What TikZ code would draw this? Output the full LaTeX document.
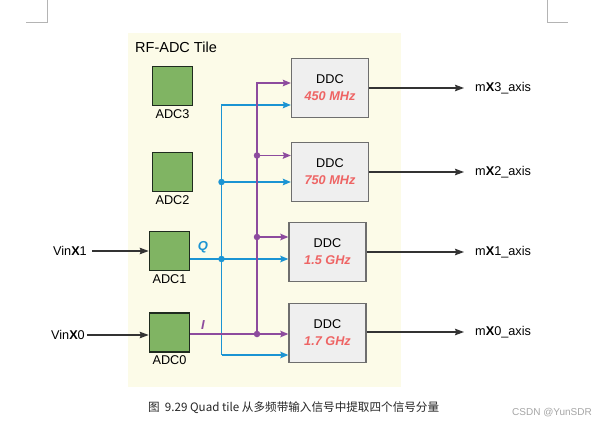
\documentclass[tikz,border=0pt]{standalone}
\usepackage{fontspec}
\setmainfont{Liberation Sans}
\newfontfamily\cjk{Noto Sans CJK SC}
\usetikzlibrary{arrows.meta,calc}
\definecolor{tilebg}{HTML}{FCFBE8}
\definecolor{adcgreen}{HTML}{80B463}
\definecolor{adcedge}{HTML}{1F2B1F}
\definecolor{ddcfill}{HTML}{EFEFEF}
\definecolor{ddcedge}{HTML}{6E6E6E}
\definecolor{wblue}{HTML}{1B94D3}
\definecolor{wpurple}{HTML}{8D4B9E}
\definecolor{freqred}{HTML}{EE6464}
\definecolor{darkarrow}{HTML}{333333}
\definecolor{markgrey}{HTML}{B4B4B4}
\begin{document}
\begin{tikzpicture}[x=1pt,y=-1pt,
  txt/.style={font=\fontsize{12.7}{15}\selectfont, inner sep=0pt},
  adcbox/.style={draw=adcedge, fill=adcgreen, line width=1.6pt, minimum width=40pt, minimum height=39pt, inner sep=0pt},
  adclabel/.style={txt, anchor=north},
  ddcbox/.style={draw=ddcedge, fill=ddcfill, line width=1.3pt, minimum width=77pt, minimum height=59pt, align=center, font=\fontsize{12.7}{18}\selectfont, inner sep=0pt},
  bw/.style={draw=wblue, line width=1.4pt},
  pw/.style={draw=wpurple, line width=1.4pt},
  arr/.style={-{Stealth[length=8pt,width=6.5pt,inset=1.2pt]}},
  outarr/.style={draw=darkarrow, line width=1.3pt, -{Stealth[length=9pt,width=6.5pt,inset=1.2pt]}},
  dotb/.style={circle, fill=wblue, inner sep=0pt, minimum size=6.5pt},
  dotp/.style={circle, fill=wpurple, inner sep=0pt, minimum size=6.5pt},
]
\useasboundingbox (0,0) rectangle (594,425);
\fill[white] (0,0) rectangle (594,425);
% corner marks
\draw[markgrey, line width=0.7pt] (47,0) -- (47,22) -- (26,22);
\draw[markgrey, line width=0.7pt] (547,0) -- (547,22) -- (568,22);
% tile
\fill[tilebg] (128,33) rectangle (401,387);
\node[txt, anchor=west, font=\fontsize{14.5}{17}\selectfont] (title) at (135,47) {RF-ADC Tile};
% ADCs
\node[adcbox] (adc3) at (172.5,86) {};
\node[adcbox] (adc2) at (172.5,172) {};
\node[adcbox] (adc1) at (169.5,251) {};
\node[adcbox] (adc0) at (169.5,332.5) {};
\node[adclabel] (l3) at ($(adc3.south)+(0,3)$) {ADC3};
\node[adclabel] (l2) at ($(adc2.south)+(0,3)$) {ADC2};
\node[adclabel] (l1) at ($(adc1.south)+(0,3)$) {ADC1};
\node[adclabel] (l0) at ($(adc0.south)+(0,3)$) {ADC0};
% DDCs
\node[ddcbox] (ddc3) at (330,88) {DDC\\[-1pt]{\bfseries\itshape\color{freqred}450 MHz}};
\node[ddcbox] (ddc2) at (330,172) {DDC\\[-1pt]{\bfseries\itshape\color{freqred}750 MHz}};
\node[ddcbox] (ddc1) at (327.5,252) {DDC\\[-1pt]{\bfseries\itshape\color{freqred}1.5 GHz}};
\node[ddcbox] (ddc0) at (327.5,333) {DDC\\[-1pt]{\bfseries\itshape\color{freqred}1.7 GHz}};
% inputs
\node[txt, anchor=east] (vin1) at (87,251) {Vin\textbf{X}1};
\node[txt, anchor=east] (vin0) at (85,335) {Vin\textbf{X}0};
\draw[outarr] ($(vin1.east)+(5,0)$) -- (adc1.west);
\draw[outarr] ($(vin0.east)+(2,0)$) -- (adc0.west |- vin0.east);
% junction coordinates
\coordinate (q) at (221.5,259);
\coordinate (i) at (257,334);
\coordinate (bt) at (221.5,105);
\coordinate (bb) at (221.5,355);
\coordinate (b2) at (221.5,182);
\coordinate (pt) at (257,83);
\coordinate (p2) at (257,155.5);
\coordinate (p1) at (257,237);
% blue Q network
\draw[bw] (adc1.east |- q) -- (q);
\draw[bw,arr] (q) -- (q -| ddc1.west);
\draw[bw,arr] (bb) |- (bt) -- (bt -| ddc3.west);
\draw[bw,arr] (bb) -- (bb -| ddc0.west);
\draw[bw,arr] (b2) -- (b2 -| ddc2.west);
% purple I network
\draw[pw] (adc0.east |- i) -- (i);
\draw[pw,arr] (i) -- (i -| ddc0.west);
\draw[pw,arr] (i) -- (pt) -- (pt -| ddc3.west);
\draw[pw,arr] (p2) -- (p2 -| ddc2.west);
\draw[pw,arr] (p1) -- (p1 -| ddc1.west);
% dots
\node[dotb] (dq) at (q) {};
\node[dotb] (db2) at (b2) {};
\node[dotp] (di) at (i) {};
\node[dotp] (dp2) at (p2) {};
\node[dotp] (dp1) at (p1) {};
% Q / I labels
\node[txt, text=wblue, font=\fontsize{13}{15}\bfseries\itshape] (qlab) at (203,247) {Q};
\node[txt, text=wpurple, font=\fontsize{13}{15}\bfseries\itshape] (ilab) at (203,325) {I};
% outputs
\node[txt, anchor=west] (o3) at (475,88) {m\textbf{X}3\_axis};
\node[txt, anchor=west] (o2) at (475,172) {m\textbf{X}2\_axis};
\node[txt, anchor=west] (o1) at (475,252) {m\textbf{X}1\_axis};
\node[txt, anchor=west] (o0) at (475,332) {m\textbf{X}0\_axis};
\draw[outarr] (ddc3.east) -- ($(o3.west)+(-11,0)$);
\draw[outarr] (ddc2.east) -- ($(o2.west)+(-11,0)$);
\draw[outarr] (ddc1.east) -- ($(o1.west)+(-11,0)$);
\draw[outarr] (ddc0.east |- o0.west) -- ($(o0.west)+(-11,0)$);
% caption and watermark
\node[anchor=west, inner sep=0pt, font=\cjk\fontsize{11.6}{13}\selectfont, text=black!85] (cap) at (148,408) {图\ \ 9.29 Quad tile 从多频带输入信号中提取四个信号分量};
\node[anchor=west, inner sep=0pt, font=\fontsize{10}{12}\selectfont, text=black!35] (wm) at (512,413) {CSDN @YunSDR};
\end{tikzpicture}
\end{document}
